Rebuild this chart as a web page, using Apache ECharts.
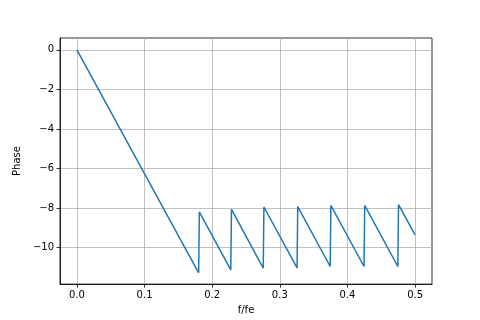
<!DOCTYPE html>
<html><head><meta charset="utf-8">
<script src="https://cdn.jsdelivr.net/npm/echarts@6/dist/echarts.min.js"></script>
<style>html,body{margin:0;padding:0;background:#fff}#c{width:480px;height:320px}</style>
</head><body><div id="c"></div>
<script>
const freq = [0, 0.180, 0.181, 0.2275, 0.2285, 0.2755, 0.2765, 0.3255, 0.3265, 0.3745, 0.3755, 0.4245, 0.4255, 0.4745, 0.4755, 0.5];
const phase = [0, -11.28, -8.2, -11.13, -8.07, -11.04, -7.95, -11.03, -7.93, -10.96, -7.87, -10.96, -7.87, -10.96, -7.83, -9.36];
const xTicks = [0, 0.1, 0.2, 0.3, 0.4, 0.5];
const yTicks = [0, -2, -4, -6, -8, -10];
const xName = 'f/fe';
const yName = 'Phase';

const font = 'DejaVu Sans';
const fmt = v => { const s = Math.abs(v) < 1e-9 ? '0' : String(v); return s.replace('-', '\u2212'); };
const chart = echarts.init(document.getElementById('c'), null, {renderer: 'canvas'});
chart.setOption({
  animation: false,
  backgroundColor: '#fff',
  grid: {left: 60, right: 48, top: 38, bottom: 35, show: true, borderColor: '#000', borderWidth: 0.8, containLabel: false},
  xAxis: {
    type: 'value', min: -0.025, max: 0.525,
    name: xName, nameLocation: 'middle', nameGap: 20,
    nameTextStyle: {fontFamily: font, fontSize: 10, color: '#000'},
    axisLine: {show: true, onZero: false, lineStyle: {color: '#000', width: 0.8}},
    axisTick: {show: true, length: 3.5, lineStyle: {color: '#000', width: 0.8}, customValues: xTicks},
    axisLabel: {fontFamily: font, fontSize: 10, color: '#000', margin: 6, customValues: xTicks, formatter: v => v.toFixed(1)},
    splitLine: {show: true, lineStyle: {color: '#b0b0b0', width: 0.8}}
  },
  yAxis: {
    type: 'value', min: -11.85, max: 0.6,
    name: yName, nameLocation: 'middle', nameGap: 37, nameRotate: 90,
    nameTextStyle: {fontFamily: font, fontSize: 10, color: '#000'},
    axisLine: {show: true, onZero: false, lineStyle: {color: '#000', width: 0.8}},
    axisTick: {show: true, length: 3.5, lineStyle: {color: '#000', width: 0.8}, customValues: yTicks},
    axisLabel: {fontFamily: font, fontSize: 10, color: '#000', margin: 6, customValues: yTicks, formatter: fmt},
    splitLine: {show: true, lineStyle: {color: '#b0b0b0', width: 0.8}}
  },
  series: [{
    type: 'line', data: freq.map((f, i) => [f, phase[i]]),
    showSymbol: false, symbol: 'none',
    lineStyle: {color: '#1f77b4', width: 1.5}
  }]
});
</script></body></html>
